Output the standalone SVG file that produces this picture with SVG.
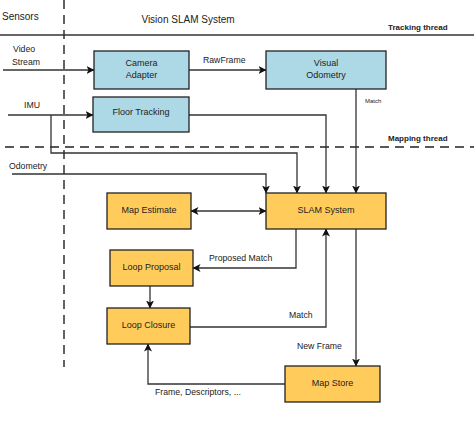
<svg xmlns="http://www.w3.org/2000/svg" width="474" height="426" viewBox="0 0 474 426">
<defs>
<marker id="ah" viewBox="0 0 8 8" refX="7.5" refY="4" markerWidth="8" markerHeight="8" markerUnits="userSpaceOnUse" orient="auto-start-reverse">
<path d="M0,0 L8,4 L0,8 L2,4 z" fill="#111"/>
</marker>
</defs>
<style>
text{font-family:"Liberation Sans",Arial,sans-serif;fill:#222}
.blue{fill:#ADD8E6;stroke:#222;stroke-width:1.3}
.orange{fill:#FFCC5C;stroke:#222;stroke-width:1.3}
.nt{font-size:9px;text-anchor:middle}
.lbl{font-size:8.7px}
.c{fill:none;stroke:#333;stroke-width:1.3}
.a{marker-end:url(#ah)}
.dash{fill:none;stroke:#222;stroke-width:1.4;stroke-dasharray:9 6}
.bold{font-size:8px;font-weight:bold}
</style>
<rect width="474" height="426" fill="#fff"/>
<g id="frame">
<line class="dash" x1="64" y1="0" x2="64" y2="367"/>
<line x1="0" y1="35" x2="474" y2="35" stroke="#333" stroke-width="1.3"/>
<line class="dash" x1="5" y1="147" x2="474" y2="147"/>
<text x="2" y="20" font-size="10">Sensors</text>
<text x="188" y="23" font-size="10" text-anchor="middle">Vision SLAM System</text>
<text class="bold" x="388" y="30">Tracking thread</text>
<text class="bold" x="388" y="141">Mapping thread</text>
</g>
<g id="connectors">
<path class="c a" d="M3,70 H94"/>
<path class="c a" d="M8,115 H93"/>
<path class="c a" d="M189,70 H266"/>
<path class="c a" d="M51,115 V153 H297 V193"/>
<path class="c a" d="M189,115 H326 V193"/>
<path class="c a" d="M12,174 H266 V193"/>
<path class="c a" d="M356,89 V193"/>
<path class="c a" d="M266,211 H191" marker-start="url(#ah)"/>
<path class="c a" d="M296,229 V268 H193"/>
<path class="c a" d="M150,286 V308"/>
<path class="c a" d="M190,327 H326 V229"/>
<path class="c a" d="M356,229 V366"/>
<path class="c a" d="M285,384 H148 V344"/>
<text class="lbl" x="13" y="52">Video</text>
<text class="lbl" x="12" y="65">Stream</text>
<text class="lbl" x="24" y="108">IMU</text>
<text class="lbl" x="9" y="169">Odometry</text>
<text class="lbl" x="203" y="63">RawFrame</text>
<text x="365" y="103" font-size="6">Match</text>
<text class="lbl" x="209" y="261">Proposed Match</text>
<text class="lbl" x="289" y="318">Match</text>
<text class="lbl" x="297" y="349">New Frame</text>
<text class="lbl" x="155" y="395">Frame, Descriptors, ...</text>
</g>
<g id="camera-adapter">
<rect class="blue" x="94" y="51" width="95" height="38"/>
<text class="nt" x="141.5" y="66">Camera</text>
<text class="nt" x="141.5" y="78">Adapter</text>
</g>
<g id="floor-tracking">
<rect class="blue" x="93" y="97" width="96" height="35"/>
<text class="nt" x="141" y="115">Floor Tracking</text>
</g>
<g id="visual-odometry">
<rect class="blue" x="266" y="51" width="120" height="38"/>
<text class="nt" x="326" y="66">Visual</text>
<text class="nt" x="326" y="78">Odometry</text>
</g>
<g id="slam-system">
<rect class="orange" x="266" y="193" width="120" height="36"/>
<text class="nt" x="326" y="213">SLAM System</text>
</g>
<g id="map-estimate">
<rect class="orange" x="107" y="193" width="84" height="36"/>
<text class="nt" x="149" y="213">Map Estimate</text>
</g>
<g id="loop-proposal">
<rect class="orange" x="110" y="250" width="83" height="36"/>
<text class="nt" x="151.5" y="270">Loop Proposal</text>
</g>
<g id="loop-closure">
<rect class="orange" x="107" y="308" width="83" height="36"/>
<text class="nt" x="148.5" y="328">Loop Closure</text>
</g>
<g id="map-store">
<rect class="orange" x="285" y="366" width="95" height="36"/>
<text class="nt" x="332.5" y="386">Map Store</text>
</g>
</svg>
